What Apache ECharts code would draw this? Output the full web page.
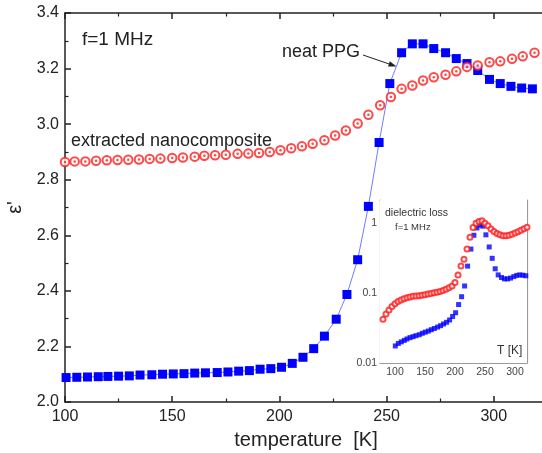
<!DOCTYPE html>
<html lang="en">
<head>
<meta charset="UTF-8">
<title>epsilon' vs temperature</title>
<script src="https://cdn.jsdelivr.net/npm/echarts@6/dist/echarts.min.js"></script>
<style>body{margin:0;background:#fff} #main{width:542px;height:453px}</style>
</head>
<body>
<div id="main"></div>
<script>
// main panel, f = 1 MHz
var ppgT = [100.5,105.5,110.5,115.5,120,125,130,135,140.5,145.5,150.5,155.5,160.5,165.5,171,176,181,186,191,
  196,201,206,211,216,221,226.5,231.5,236.5,241.5,246.5,251.5,257,262,267,272,277.5,282.5,287.5,292.5,298,303,308,313,318];
var ppgEps = [2.088,2.089,2.090,2.091,2.092,2.093,2.094,2.097,2.098,2.100,2.101,2.102,2.104,2.105,2.106,2.108,2.111,2.113,2.118,
  2.12,2.125,2.139,2.161,2.192,2.237,2.298,2.387,2.512,2.704,2.934,3.146,3.257,3.289,3.289,3.272,3.257,3.236,3.218,3.193,3.161,3.146,3.136,3.130,3.127];
var compT = [100,104.5,109.5,114.5,119.5,124.5,129.5,134.5,139.5,144.5,150,155,160.5,165,170,175,180.5,185.5,190.5,195.5,
  200.5,205.5,210.5,215.5,221,226,231,236.5,241.5,247,252,257,262,267,272,277.5,282.5,287.5,292.5,298,303,308.5,313.5,319];
var compEps = [2.864,2.866,2.866,2.868,2.870,2.871,2.872,2.873,2.875,2.876,2.878,2.880,2.883,2.886,2.888,2.890,2.893,2.894,2.896,2.900,
  2.906,2.913,2.920,2.929,2.942,2.959,2.977,3.002,3.034,3.068,3.098,3.127,3.139,3.157,3.169,3.178,3.190,3.206,3.211,3.223,3.226,3.235,3.244,3.257];

// inset: dielectric loss (PPG measured at the same temperatures as ppgT)
var lossCompT = [80,85,90,95,100,105,110,115,120,125,130,135,140,145,150,155,160,165,170,175,180,185,190,195,200,
  205,210,215,220,225,230,235,240,245,250,255,260,265,270,275,280,285,290,295,300,305,310,315,320];
var lossComp = [0.042,0.050,0.057,0.064,0.070,0.075,0.079,0.082,0.085,0.087,0.089,0.090,0.091,0.092,0.094,0.096,0.098,0.100,0.102,0.104,
  0.108,0.112,0.118,0.125,0.140,0.180,0.240,0.300,0.420,0.620,0.850,0.980,1.04,1.06,0.98,0.90,0.81,0.75,0.70,0.67,0.65,0.65,0.66,0.68,
  0.71,0.74,0.78,0.82,0.86];
var lossPPG = [0.0175,0.019,0.020,0.021,0.022,0.023,0.0237,0.0245,0.0253,0.0265,0.0275,0.0285,0.0298,0.031,0.0325,0.034,0.036,0.038,0.041,
  0.046,0.052,0.068,0.088,0.125,0.24,0.42,0.66,0.84,0.92,0.89,0.67,0.45,0.31,0.22,0.18,0.165,0.158,0.158,0.162,0.17,0.177,0.18,0.178,0.175];
var lossMinorTicks = [0.02,0.03,0.04,0.05,0.06,0.07,0.08,0.09,0.2,0.3,0.4,0.5,0.6,0.7,0.8,0.9,2];

function zip(a, b) { return a.map(function (t, i) { return [t, b[i]]; }); }

var FONT = 'Liberation Sans, Arial, sans-serif';
var INK = '#222';
var GREY = '#9a9a9a';

function mainX(pos) {
  var labels = pos === 'bottom';
  return {
    type: 'value', gridIndex: 0, position: pos, min: 100, max: 350, interval: 50,
    axisLine: { onZero: false, lineStyle: { color: INK, width: 1.5 } },
    axisTick: { inside: true, length: 6, lineStyle: { color: INK, width: 1.5 } },
    minorTick: { show: true, splitNumber: 2, length: 3.5, lineStyle: { color: INK, width: 1.2 } },
    splitLine: { show: false },
    axisLabel: { show: labels, fontSize: 16, color: INK, margin: 7, fontFamily: FONT },
    name: labels ? 'temperature  [K]' : '', nameLocation: 'start', nameGap: -241,
    nameTextStyle: { fontSize: 20, color: INK, fontFamily: FONT, align: 'center', verticalAlign: 'top', padding: [28, 0, 0, 0] }
  };
}

function insetX(pos) {
  return {
    type: 'value', gridIndex: 1, position: pos, min: 75, max: 320, interval: 25,
    axisLine: { onZero: false, lineStyle: { color: GREY, width: 1.2 } },
    axisTick: { inside: true, length: 3, lineStyle: { color: GREY } },
    splitLine: { show: false },
    axisLabel: {
      show: pos === 'bottom', fontSize: 10.5, color: '#444', margin: 4, fontFamily: FONT, showMaxLabel: false,
      formatter: function (v) { return v % 50 === 0 ? String(v) : ''; }
    }
  };
}

var chart = echarts.init(document.getElementById('main'));

var tip = [396.5, 66.5], tail = [363, 55];
var dx = tip[0] - tail[0], dy = tip[1] - tail[1], len = Math.sqrt(dx * dx + dy * dy);
var ux = dx / len, uy = dy / len;
var head = [tip, [tip[0] - 8 * ux - 2.8 * uy, tip[1] - 8 * uy + 2.8 * ux], [tip[0] - 8 * ux + 2.8 * uy, tip[1] - 8 * uy - 2.8 * ux]];

chart.setOption({
  animation: false,
  backgroundColor: '#fff',
  grid: [
    // 100..350 K drawn 536 px wide, so only up to ~323 K falls inside the picture
    { left: 65, top: 13, width: 536, bottom: 51, outerBoundsMode: 'none' },
    { left: 380, top: 200, width: 147, height: 163, outerBoundsMode: 'none', show: true, backgroundColor: '#fff', borderWidth: 0, z: 5 }
  ],
  xAxis: [mainX('bottom'), mainX('top'), insetX('bottom'), insetX('top')],
  yAxis: [
    {
      type: 'value', gridIndex: 0, min: 2.0, max: 3.4, interval: 0.2,
      axisLine: { lineStyle: { color: INK, width: 1.5 } },
      axisTick: { inside: true, length: 6, lineStyle: { color: INK, width: 1.5 } },
      minorTick: { show: true, splitNumber: 2, length: 3.5, lineStyle: { color: INK, width: 1.2 } },
      splitLine: { show: false },
      axisLabel: { fontSize: 16, color: INK, margin: 6, fontFamily: FONT, formatter: function (v) { return v.toFixed(1); } },
      name: "ε'", nameLocation: 'middle', nameGap: 33, nameRotate: 90,
      nameTextStyle: { fontSize: 20, color: INK, fontFamily: FONT }
    },
    {
      type: 'log', gridIndex: 1, min: 0.01, max: 2.1, position: 'left',
      axisLine: { lineStyle: { color: GREY, width: 1.2 } },
      axisTick: { inside: true, length: 4, lineStyle: { color: GREY } },
      splitLine: { show: false },
      axisLabel: { fontSize: 10.5, color: '#444', margin: 3, fontFamily: FONT, showMaxLabel: false }
    },
    {
      type: 'log', gridIndex: 1, min: 0.01, max: 2.1, position: 'right',
      axisLine: { lineStyle: { color: GREY, width: 1.2 } },
      axisTick: { inside: true, length: 4, lineStyle: { color: GREY } },
      splitLine: { show: false },
      axisLabel: { show: false }
    },
    {
      type: 'log', gridIndex: 1, min: 0.01, max: 2.1, position: 'left',
      axisLine: { show: false },
      axisTick: { inside: true, length: 2, customValues: lossMinorTicks, lineStyle: { color: GREY } },
      splitLine: { show: false },
      axisLabel: { show: false }
    }
  ],
  series: [
    {
      type: 'line', xAxisIndex: 0, yAxisIndex: 0, data: zip(ppgT, ppgEps),
      symbol: 'rect', symbolSize: 9, itemStyle: { color: '#0000ff' },
      lineStyle: { color: '#6f7dff', width: 1 }, z: 2
    },
    {
      type: 'scatter', xAxisIndex: 0, yAxisIndex: 0, data: zip(compT, compEps),
      symbol: 'emptyCircle', symbolSize: 8.5, itemStyle: { color: '#ff1a1a', borderColor: '#ff1a1a', borderWidth: 2 }, z: 3
    },
    {
      type: 'scatter', xAxisIndex: 0, yAxisIndex: 0, data: zip(compT, compEps),
      symbol: 'circle', symbolSize: 2.5, itemStyle: { color: '#ff1a1a' }, z: 4
    },
    {
      type: 'scatter', xAxisIndex: 2, yAxisIndex: 1, data: zip(ppgT, lossPPG),
      symbol: 'rect', symbolSize: 5, itemStyle: { color: '#0000ff' }, z: 6
    },
    {
      type: 'scatter', xAxisIndex: 2, yAxisIndex: 1, data: zip(lossCompT, lossComp),
      symbol: 'emptyCircle', symbolSize: 5, itemStyle: { color: '#ff1a1a', borderColor: '#ff1a1a', borderWidth: 1 }, z: 7
    }
  ],
  graphic: [
    { type: 'text', left: 82, top: 30, style: { text: 'f=1 MHz', font: '19px ' + FONT, fill: INK } },
    { type: 'text', left: 71, top: 132, style: { text: 'extracted nanocomposite', font: '18px ' + FONT, fill: INK } },
    { type: 'text', left: 282, top: 43, style: { text: 'neat PPG', font: '18px ' + FONT, fill: INK } },
    { type: 'line', shape: { x1: tail[0], y1: tail[1], x2: tip[0] - 6 * ux, y2: tip[1] - 6 * uy }, style: { stroke: INK, lineWidth: 1 } },
    { type: 'polygon', shape: { points: head }, style: { fill: INK } },
    { type: 'text', left: 385, top: 208, z: 20, style: { text: 'dielectric loss', font: '10.5px ' + FONT, fill: '#333' } },
    { type: 'text', left: 395, top: 222, z: 20, style: { text: 'f=1 MHz', font: '9.5px ' + FONT, fill: '#333' } },
    { type: 'text', left: 497, top: 345, z: 20, style: { text: 'T [K]', font: '12px ' + FONT, fill: '#333' } }
  ]
});
</script>
</body>
</html>
